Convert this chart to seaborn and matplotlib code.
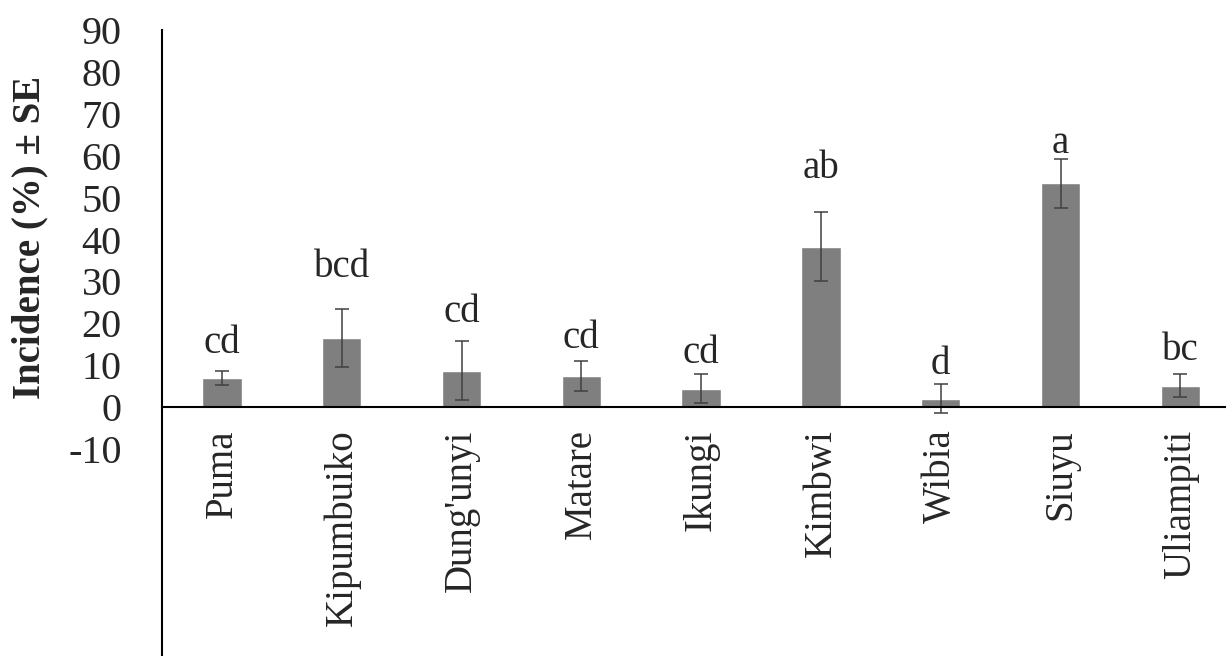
import matplotlib
matplotlib.use("Agg")
import matplotlib.pyplot as plt
import seaborn as sns
import numpy as np

# data
sites = ["Puma", "Kipumbuiko", "Dung'unyi", "Matare", "Ikungi",
         "Kimbwi", "Wibia", "Siuyu", "Uliampiti"]
incidence = [6.9, 16.5, 8.7, 7.4, 4.4, 38.3, 2.0, 53.4, 5.1]
se = [1.6, 7.0, 7.0, 3.6, 3.4, 8.2, 3.4, 5.9, 2.7]
letters = ["cd", "bcd", "cd", "cd", "cd", "ab", "d", "a", "bc"]
letter_y = [12.9, 31.0, 20.3, 14.1, 10.5, 54.7, 7.9, 60.6, 11.2]
yticks = [-10, 0, 10, 20, 30, 40, 50, 60, 70, 80, 90]

sns.set_style("white")
plt.rcParams["font.family"] = ["Liberation Serif", "DejaVu Serif"]

fig = plt.figure(figsize=(12.26, 6.56), dpi=100)
ax = fig.add_axes([162 / 1226, 0.0, 1064 / 1226, 626 / 656])

sns.barplot(x=sites, y=incidence, color="#7f7f7f", saturation=1,
            width=0.33, ax=ax)
ax.errorbar(np.arange(len(sites)), incidence, yerr=se, fmt="none",
            ecolor="#404040", elinewidth=1.1, capsize=5, capthick=1.1)

for i, (lab, ly) in enumerate(zip(letters, letter_y)):
    ax.text(i, ly, lab, ha="center", va="baseline", fontsize=28)

ax.set_xlim(-0.5, 1064 / 119.8 - 0.5)
ax.set_ylim(-59.4, 90)
ax.set_yticks(yticks)
ax.set_yticklabels([str(t) for t in yticks], fontsize=29)

# x axis sits at y = 0, labels hang below it
ax.spines["bottom"].set_position(("data", 0))
ax.set_xticks(range(len(sites)))
ax.set_xticklabels(sites, rotation=90, fontsize=28, va="top")
ax.tick_params(axis="x", length=0, pad=16)
ax.tick_params(axis="y", length=0, pad=29)

for side in ["top", "right"]:
    ax.spines[side].set_visible(False)
for side in ["left", "bottom"]:
    ax.spines[side].set_color("black")
    ax.spines[side].set_linewidth(1.5)

ax.set_xlabel("")
ax.set_ylabel("")
fig.text(30 / 1226, 1 - 237 / 656, "Incidence (%) \u00b1 SE", rotation=90,
         ha="center", va="center", fontsize=28, fontweight="bold")

fig.savefig("out.png", dpi=100)
